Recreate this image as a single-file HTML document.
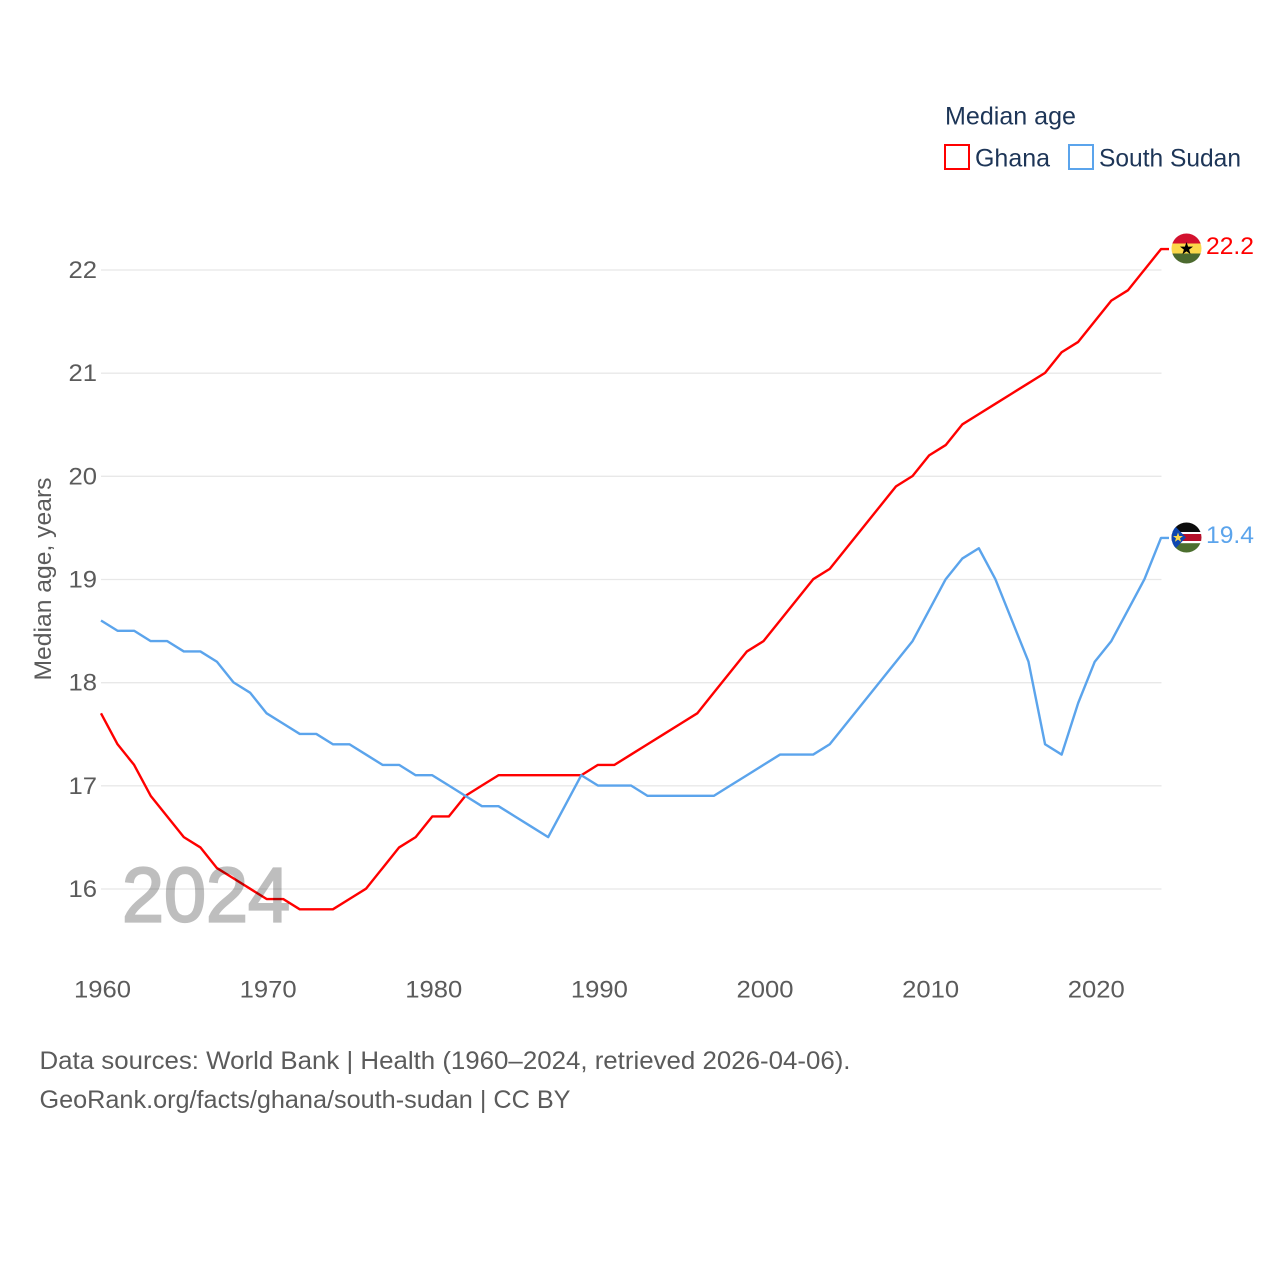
<!DOCTYPE html>
<html lang="en">
<head>
<meta charset="utf-8">
<title>Median age: Ghana and South Sudan</title>
<style>
  html, body { margin: 0; padding: 0; background: #fff; }
  svg { display: block; }
  text { font-family: "Liberation Sans", sans-serif; }
</style>
</head>
<body>
<svg id="chart" xmlns="http://www.w3.org/2000/svg" width="1280" height="1280" viewBox="0 0 1280 1280">
  <defs>
    <clipPath id="clip-ghana"><circle cx="1186.5" cy="248.5" r="15"></circle></clipPath>
    <clipPath id="clip-ssudan"><circle cx="1186.5" cy="537.5" r="15"></circle></clipPath>
  </defs>
  <rect x="0" y="0" width="1280" height="1280" fill="#ffffff"></rect>

  <g id="grid"></g>
  <g id="y-ticks"></g>
  <g id="x-ticks"></g>

  <text transform="translate(51,579) rotate(-90)" text-anchor="middle" font-size="24" fill="#5b5b5b" textLength="203" lengthAdjust="spacingAndGlyphs">Median age, years</text>

  <g id="series"></g>

  <text x="122" y="921.5" font-size="77" font-weight="normal" fill="#000000" stroke="#000000" stroke-width="2.2" opacity="0.25" textLength="168" lengthAdjust="spacingAndGlyphs">2024</text>

  <g clip-path="url(#clip-ghana)">
    <rect x="1171" y="233" width="31" height="10.5" fill="#d3112e"></rect>
    <rect x="1171" y="243.5" width="31" height="10" fill="#fcd84a"></rect>
    <rect x="1171" y="253.5" width="31" height="11" fill="#4c6a2f"></rect>
    <polygon points="1186.5,242 1188.1,246.6 1193,246.6 1189.1,249.6 1190.6,254.2 1186.5,251.4 1182.4,254.2 1183.9,249.6 1180,246.6 1184.9,246.6" fill="#000000"></polygon>
  </g>
  <text x="1206" y="254" font-size="24.5" fill="#ff0000" textLength="48" lengthAdjust="spacingAndGlyphs">22.2</text>

  <g clip-path="url(#clip-ssudan)">
    <rect x="1171" y="522" width="31" height="10" fill="#0c0c0c"></rect>
    <rect x="1171" y="532" width="31" height="2" fill="#ffffff"></rect>
    <rect x="1171" y="534" width="31" height="7" fill="#b5102a"></rect>
    <rect x="1171" y="541" width="31" height="2.2" fill="#ffffff"></rect>
    <rect x="1171" y="543.2" width="31" height="10" fill="#4c6f2f"></rect>
    <polygon points="1171,522 1186,537.5 1171,553" fill="#0f47af"></polygon>
    <polygon points="1178,532.5 1179.2,536 1183,536 1180,538.2 1181.1,541.8 1178,539.6 1174.9,541.8 1176,538.2 1173,536 1176.8,536" fill="#fcd84a"></polygon>
  </g>
  <text x="1206" y="543" font-size="24.5" fill="#5ba4ec" textLength="48" lengthAdjust="spacingAndGlyphs">19.4</text>

  <g>
    <text x="945" y="124.5" font-size="25" fill="#1d3557" textLength="131" lengthAdjust="spacingAndGlyphs">Median age</text>
    <g>
      <rect x="945" y="145" width="24" height="24" fill="#ffffff" stroke="#ff0000" stroke-width="2"></rect>
      <text x="975" y="166.5" font-size="25" fill="#1d3557" textLength="75" lengthAdjust="spacingAndGlyphs">Ghana</text>
    </g>
    <g>
      <rect x="1069" y="145" width="24" height="24" fill="#ffffff" stroke="#5ba4ec" stroke-width="2"></rect>
      <text x="1099" y="166.5" font-size="25" fill="#1d3557" textLength="142" lengthAdjust="spacingAndGlyphs">South Sudan</text>
    </g>
  </g>

  <text x="39.5" y="1069" font-size="25" fill="#5b5b5b" textLength="811" lengthAdjust="spacingAndGlyphs">Data sources: World Bank | Health (1960–2024, retrieved 2026-04-06).</text>
  <text x="39.5" y="1108" font-size="25" fill="#5b5b5b" textLength="531" lengthAdjust="spacingAndGlyphs">GeoRank.org/facts/ghana/south-sudan | CC BY</text>
</svg>
<script>
const startYear = 1960;
const yTickValues = [16, 17, 18, 19, 20, 21, 22];
const xTickYears = [1960, 1970, 1980, 1990, 2000, 2010, 2020];
const ghanaValues = [
  17.7, 17.4, 17.2, 16.9, 16.7, 16.5, 16.4, 16.2, 16.1, 16.0,
  15.9, 15.9, 15.8, 15.8, 15.8, 15.9, 16.0, 16.2, 16.4, 16.5,
  16.7, 16.7, 16.9, 17.0, 17.1, 17.1, 17.1, 17.1, 17.1, 17.1,
  17.2, 17.2, 17.3, 17.4, 17.5, 17.6, 17.7, 17.9, 18.1, 18.3,
  18.4, 18.6, 18.8, 19.0, 19.1, 19.3, 19.5, 19.7, 19.9, 20.0,
  20.2, 20.3, 20.5, 20.6, 20.7, 20.8, 20.9, 21.0, 21.2, 21.3,
  21.5, 21.7, 21.8, 22.0, 22.2
];
const southSudanValues = [
  18.6, 18.5, 18.5, 18.4, 18.4, 18.3, 18.3, 18.2, 18.0, 17.9,
  17.7, 17.6, 17.5, 17.5, 17.4, 17.4, 17.3, 17.2, 17.2, 17.1,
  17.1, 17.0, 16.9, 16.8, 16.8, 16.7, 16.6, 16.5, 16.8, 17.1,
  17.0, 17.0, 17.0, 16.9, 16.9, 16.9, 16.9, 16.9, 17.0, 17.1,
  17.2, 17.3, 17.3, 17.3, 17.4, 17.6, 17.8, 18.0, 18.2, 18.4,
  18.7, 19.0, 19.2, 19.3, 19.0, 18.6, 18.2, 17.4, 17.3, 17.8,
  18.2, 18.4, 18.7, 19.0, 19.4
];

const SVG_NS = 'http://www.w3.org/2000/svg';
function xScale(year) { return 101 + (year - 1960) * (1161 - 101) / 64; }
function yScale(v) { return 888.7 - (v - 16) * (888.7 - 269.7) / 6; }

const gridGroup = document.getElementById('grid');
const yTickGroup = document.getElementById('y-ticks');
const xTickGroup = document.getElementById('x-ticks');
const seriesGroup = document.getElementById('series');

yTickValues.forEach(function (v) {
  const line = document.createElementNS(SVG_NS, 'line');
  
  
  line.setAttribute('x1', xScale(1960));
  line.setAttribute('x2', xScale(2024) + 0.5);
  line.setAttribute('y1', yScale(v) + 0.3);
  line.setAttribute('y2', yScale(v) + 0.3);
  line.setAttribute('stroke', '#e8e8e8');
  line.setAttribute('stroke-width', '1.3');
  gridGroup.appendChild(line);

  const label = document.createElementNS(SVG_NS, 'text');
  
  
  label.setAttribute('x', 97);
  label.setAttribute('y', yScale(v) + 8.3);
  label.setAttribute('text-anchor', 'end');
  label.setAttribute('font-size', '24');
  label.setAttribute('fill', '#5b5b5b');
  label.setAttribute('textLength', '28.5');
  label.setAttribute('lengthAdjust', 'spacingAndGlyphs');
  label.textContent = String(v);
  yTickGroup.appendChild(label);
});

xTickYears.forEach(function (year) {
  const label = document.createElementNS(SVG_NS, 'text');
  
  
  label.setAttribute('x', xScale(year) + 1.5);
  label.setAttribute('y', 997.5);
  label.setAttribute('text-anchor', 'middle');
  label.setAttribute('font-size', '24');
  label.setAttribute('fill', '#5b5b5b');
  label.setAttribute('textLength', '57');
  label.setAttribute('lengthAdjust', 'spacingAndGlyphs');
  label.textContent = String(year);
  xTickGroup.appendChild(label);
});

function seriesPath(values) {
  let d = '';
  values.forEach(function (v, i) {
    d += (i === 0 ? 'M' : 'L') + xScale(startYear + i).toFixed(2) + ' ' + yScale(v).toFixed(2) + ' ';
  });
  const last = values[values.length - 1];
  d += 'L' + (xScale(startYear + values.length - 1) + 8) + ' ' + yScale(last).toFixed(2);
  return d;
}

const blueLine = document.createElementNS(SVG_NS, 'path');


blueLine.setAttribute('d', seriesPath(southSudanValues));
blueLine.setAttribute('fill', 'none');
blueLine.setAttribute('stroke', '#5ba4ec');
blueLine.setAttribute('stroke-width', '2.4');
blueLine.setAttribute('stroke-linejoin', 'round');
seriesGroup.appendChild(blueLine);

const redLine = document.createElementNS(SVG_NS, 'path');


redLine.setAttribute('d', seriesPath(ghanaValues));
redLine.setAttribute('fill', 'none');
redLine.setAttribute('stroke', '#ff0000');
redLine.setAttribute('stroke-width', '2.4');
redLine.setAttribute('stroke-linejoin', 'round');
seriesGroup.insertBefore(redLine, blueLine);
</script>
</body>
</html>
